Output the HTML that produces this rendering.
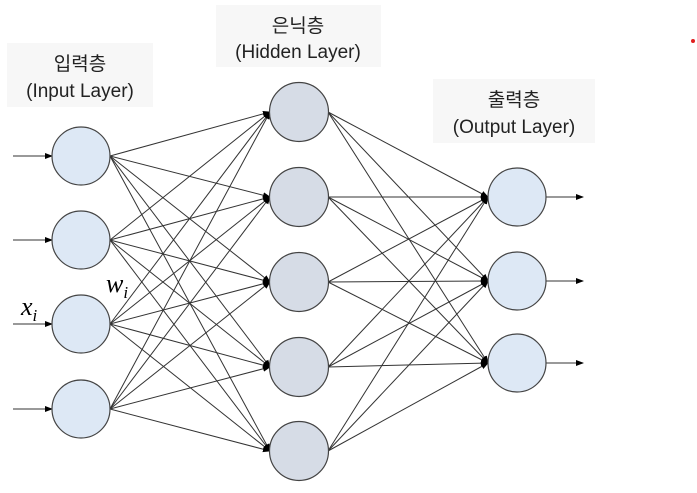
<!DOCTYPE html>
<html><head><meta charset="utf-8"><style>
html,body{margin:0;padding:0;background:#fff;width:697px;height:493px;overflow:hidden}
text{font-family:"Liberation Sans","Noto Sans CJK KR",sans-serif}
</style></head><body>
<svg width="697" height="493" viewBox="0 0 697 493" xmlns="http://www.w3.org/2000/svg">
<defs><marker id="a" markerWidth="8" markerHeight="8" refX="7" refY="4" orient="auto" markerUnits="userSpaceOnUse"><path d="M0,1 L8,4 L0,7 z" fill="#000"/></marker></defs>
<rect x="7" y="43" width="146" height="64" fill="#f7f7f7"/>
<rect x="216" y="5" width="165" height="62" fill="#f7f7f7"/>
<rect x="433" y="79" width="162" height="64" fill="#f7f7f7"/>
<g font-size="19" fill="#222" text-anchor="middle">
<text x="80" y="70">입력층</text><text x="80" y="97">(Input Layer)</text>
<text x="298" y="32">은닉층</text><text x="298" y="58">(Hidden Layer)</text>
<text x="514" y="106">출력층</text><text x="514" y="133">(Output Layer)</text>
</g>
<circle cx="693" cy="41" r="2" fill="#e02020"/>
<g stroke="#333" stroke-width="1" fill="none" marker-end="url(#a)">
<line x1="110" y1="156" x2="270" y2="112"/><line x1="110" y1="156" x2="270" y2="197"/><line x1="110" y1="156" x2="270" y2="282"/><line x1="110" y1="156" x2="270" y2="367"/><line x1="110" y1="156" x2="270" y2="451"/>
<line x1="110" y1="240" x2="270" y2="112"/><line x1="110" y1="240" x2="270" y2="197"/><line x1="110" y1="240" x2="270" y2="282"/><line x1="110" y1="240" x2="270" y2="367"/><line x1="110" y1="240" x2="270" y2="451"/>
<line x1="110" y1="324" x2="270" y2="112"/><line x1="110" y1="324" x2="270" y2="197"/><line x1="110" y1="324" x2="270" y2="282"/><line x1="110" y1="324" x2="270" y2="367"/><line x1="110" y1="324" x2="270" y2="451"/>
<line x1="110" y1="409" x2="270" y2="112"/><line x1="110" y1="409" x2="270" y2="197"/><line x1="110" y1="409" x2="270" y2="282"/><line x1="110" y1="409" x2="270" y2="367"/><line x1="110" y1="409" x2="270" y2="451"/>
<line x1="328" y1="112" x2="488" y2="197"/><line x1="328" y1="112" x2="488" y2="281"/><line x1="328" y1="112" x2="488" y2="363"/>
<line x1="328" y1="197" x2="488" y2="197"/><line x1="328" y1="197" x2="488" y2="281"/><line x1="328" y1="197" x2="488" y2="363"/>
<line x1="328" y1="282" x2="488" y2="197"/><line x1="328" y1="282" x2="488" y2="281"/><line x1="328" y1="282" x2="488" y2="363"/>
<line x1="328" y1="367" x2="488" y2="197"/><line x1="328" y1="367" x2="488" y2="281"/><line x1="328" y1="367" x2="488" y2="363"/>
<line x1="328" y1="451" x2="488" y2="197"/><line x1="328" y1="451" x2="488" y2="281"/><line x1="328" y1="451" x2="488" y2="363"/>
<line x1="13" y1="156" x2="52" y2="156"/><line x1="13" y1="240" x2="52" y2="240"/><line x1="13" y1="324" x2="52" y2="324"/><line x1="13" y1="409" x2="52" y2="409"/>
<line x1="546" y1="197" x2="583" y2="197"/><line x1="546" y1="281" x2="583" y2="281"/><line x1="546" y1="363" x2="583" y2="363"/>
</g>
<g stroke="#444" stroke-width="1.2">
<g fill="#dde8f5"><circle cx="81" cy="156" r="29"/><circle cx="81" cy="240" r="29"/><circle cx="81" cy="324" r="29"/><circle cx="81" cy="409" r="29"/></g>
<g fill="#d6dce6"><circle cx="299" cy="112" r="29.5"/><circle cx="299" cy="197" r="29.5"/><circle cx="299" cy="282" r="29.5"/><circle cx="299" cy="367" r="29.5"/><circle cx="299" cy="451" r="29.5"/></g>
<g fill="#dde8f5"><circle cx="517" cy="197" r="29"/><circle cx="517" cy="281" r="29"/><circle cx="517" cy="363" r="29"/></g>
</g>
<text x="21" y="315" style="font-family:'Liberation Serif',serif;font-style:italic;font-size:26px" fill="#000">x<tspan style="font-size:17px" dy="6">i</tspan></text>
<text x="106" y="292" style="font-family:'Liberation Serif',serif;font-style:italic;font-size:26px" fill="#000">w<tspan style="font-size:17px" dy="6">i</tspan></text>
</svg>
</body></html>
